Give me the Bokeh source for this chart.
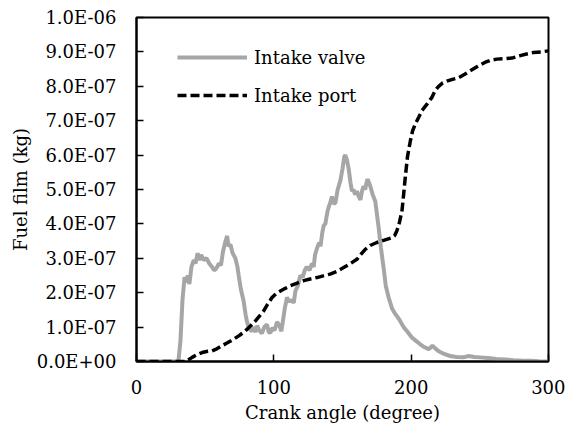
from bokeh.plotting import figure
from bokeh.models import (Range1d, FixedTicker, CustomJSTickFormatter,
                          Legend, LegendItem)
from bokeh.embed import file_html
from bokeh.resources import INLINE

# Crank angle (degree) and fuel film mass (kg) on the intake valve
valve_angle = [0, 30.5, 32, 33.5, 35, 36.2, 37.3, 38.5, 40, 41.7, 43, 44.5, 45.8, 47, 49, 51,
               53, 55, 56.5, 58, 60, 61.5, 63, 64.5, 66, 67, 68.4, 70, 72, 73.5, 74.4, 76,
               78, 79.5, 80.5, 82, 84, 85.5, 86.5, 87.8, 89.5, 91.4, 93, 95, 96.3, 97.5, 99,
               100.5, 102.3, 104, 105.5, 106.5, 108, 109.6, 111, 113.2, 114.5, 115.7, 117.5,
               119.3, 121, 122.5, 124, 126, 127.8, 129, 130, 131.5, 133, 134, 135.3, 136.3,
               137.5, 139, 140, 141, 142.3, 143.5, 144.8, 146.5, 148.4, 150, 151.3, 152,
               153.3, 154.5, 155.8, 156.9, 158, 159.2, 160.5, 161.8, 163, 164.2, 165.4,
               166.5, 167.5, 168.3, 169.3, 170.2, 172, 173.9, 175, 176.3, 178, 180, 181.5,
               183.6, 186, 188.4, 190, 192, 194.5, 197, 200.5, 203.5, 206.6, 209.5, 212.7,
               214, 215.5, 217.5, 220, 224, 228.4, 233, 238, 241.8, 246, 250, 256, 262, 268,
               274.5, 280, 286.6, 293, 300]
valve_film = [0, 0, 0.6e-7, 1.8e-7, 2.45e-7, 2.3e-7, 2.5e-7, 2.25e-7, 2.75e-7, 2.95e-7,
              2.85e-7, 3.15e-7, 2.95e-7, 3.1e-7, 2.95e-7, 3.0e-7, 2.85e-7, 2.75e-7, 2.65e-7,
              2.7e-7, 2.85e-7, 2.8e-7, 3.2e-7, 3.45e-7, 3.65e-7, 3.35e-7, 3.4e-7, 3.15e-7,
              3.0e-7, 2.75e-7, 2.5e-7, 2.1e-7, 1.76e-7, 1.35e-7, 1.15e-7, 0.95e-7, 0.88e-7,
              1.0e-7, 0.85e-7, 1.04e-7, 0.9e-7, 0.82e-7, 1.0e-7, 1.08e-7, 0.85e-7, 0.84e-7,
              0.98e-7, 0.9e-7, 1.15e-7, 1.05e-7, 0.88e-7, 1.15e-7, 1.55e-7, 1.86e-7, 1.75e-7,
              1.78e-7, 1.7e-7, 2.05e-7, 2.2e-7, 2.5e-7, 2.45e-7, 2.65e-7, 2.75e-7, 2.65e-7,
              2.85e-7, 2.75e-7, 3.1e-7, 3.3e-7, 3.45e-7, 3.35e-7, 3.75e-7, 3.95e-7, 4.0e-7,
              4.35e-7, 4.5e-7, 4.6e-7, 4.8e-7, 4.6e-7, 4.6e-7, 5.0e-7, 5.25e-7, 5.6e-7,
              5.95e-7, 6.0e-7, 5.85e-7, 5.6e-7, 5.2e-7, 4.95e-7, 5.0e-7, 4.85e-7, 4.95e-7,
              4.8e-7, 4.7e-7, 4.95e-7, 5.1e-7, 5.0e-7, 5.2e-7, 5.3e-7, 5.2e-7, 5.1e-7,
              4.85e-7, 4.65e-7, 4.3e-7, 3.9e-7, 3.3e-7, 2.7e-7, 2.2e-7, 1.86e-7, 1.55e-7,
              1.38e-7, 1.3e-7, 1.18e-7, 1.0e-7, 0.88e-7, 0.7e-7, 0.6e-7, 0.5e-7, 0.42e-7,
              0.36e-7, 0.4e-7, 0.46e-7, 0.38e-7, 0.3e-7, 0.22e-7, 0.16e-7, 0.13e-7, 0.12e-7,
              0.16e-7, 0.13e-7, 0.12e-7, 0.1e-7, 0.07e-7, 0.06e-7, 0.04e-7, 0.03e-7,
              0.02e-7, 0.01e-7, 0]

# Crank angle (degree) and fuel film mass (kg) in the intake port
port_angle = [0, 35, 37, 40.5, 44, 47.8, 51, 55, 58.5, 62.3, 66.5, 70.8, 75, 79.3, 83, 86.6,
              89.5, 92.6, 95.5, 98.7, 101.5, 104.8, 108, 112, 117, 121.7, 126.5, 131.4, 136,
              141, 146, 150.8, 155.5, 160.5, 163.5, 166.6, 170.5, 175, 180.5, 186, 188, 189.6,
              191.5, 193.3, 194.5, 195.7, 197.3, 199.4, 201, 203, 205.5, 207.8, 211.5, 215,
              217.5, 220, 223, 226, 230, 234.5, 239, 243, 248.5, 254, 258, 262.4, 268, 273.3,
              279.4, 284, 289, 294.5, 300]
port_film = [0, 0, 0.03e-7, 0.12e-7, 0.2e-7, 0.26e-7, 0.29e-7, 0.31e-7, 0.37e-7, 0.46e-7,
             0.55e-7, 0.65e-7, 0.76e-7, 0.89e-7, 1.03e-7, 1.18e-7, 1.32e-7, 1.47e-7, 1.67e-7,
             1.86e-7, 1.97e-7, 2.05e-7, 2.12e-7, 2.2e-7, 2.28e-7, 2.35e-7, 2.4e-7, 2.44e-7,
             2.49e-7, 2.54e-7, 2.62e-7, 2.73e-7, 2.84e-7, 2.97e-7, 3.12e-7, 3.26e-7, 3.38e-7,
             3.46e-7, 3.53e-7, 3.6e-7, 3.66e-7, 3.8e-7, 4.05e-7, 4.38e-7, 4.85e-7, 5.35e-7,
             5.95e-7, 6.41e-7, 6.7e-7, 6.9e-7, 7.1e-7, 7.29e-7, 7.48e-7, 7.67e-7, 7.88e-7,
             8.0e-7, 8.1e-7, 8.15e-7, 8.2e-7, 8.25e-7, 8.35e-7, 8.45e-7, 8.58e-7, 8.7e-7,
             8.76e-7, 8.79e-7, 8.8e-7, 8.82e-7, 8.89e-7, 8.94e-7, 8.98e-7, 9.0e-7, 9.03e-7]

x_ticks = [0, 100, 200, 300]
y_ticks = [0, 1e-7, 2e-7, 3e-7, 4e-7, 5e-7, 6e-7, 7e-7, 8e-7, 9e-7, 1e-6]

FONT = "DejaVu Serif"

p = figure(width=565, height=430, output_backend="svg", toolbar_location=None,
           x_range=Range1d(0, 300), y_range=Range1d(0, 1e-6),
           min_border_left=136, min_border_right=17, min_border_top=17,
           min_border_bottom=69, background_fill_color="white",
           border_fill_color="white")

p.xgrid.visible = False
p.ygrid.visible = False
p.outline_line_color = "black"
p.outline_line_width = 2

r_valve = p.line(valve_angle, valve_film, line_color="#A6A6A6", line_width=4)
r_port = p.line(port_angle, port_film, line_color="black", line_width=3.5,
                line_dash="9 4")

for ax in (p.xaxis[0], p.yaxis[0]):
    ax.axis_line_color = "black"
    ax.axis_line_width = 2
    ax.major_tick_line_color = "black"
    ax.major_tick_line_width = 1.5
    ax.major_tick_in = 7
    ax.major_tick_out = 0
    ax.minor_tick_line_color = None
    ax.major_label_text_font = FONT
    ax.major_label_text_font_size = "18px"
    ax.major_label_text_color = "black"
    ax.axis_label_text_font = FONT
    ax.axis_label_text_font_size = "18px"
    ax.axis_label_text_font_style = "normal"
    ax.axis_label_text_color = "black"

p.xaxis.ticker = FixedTicker(ticks=x_ticks)
p.xaxis.axis_label = "Crank angle (degree)"
p.xaxis.major_label_standoff = 18
p.xaxis.axis_label_standoff = 5

p.yaxis.ticker = FixedTicker(ticks=y_ticks)
p.yaxis.axis_label = "Fuel film (kg)"
p.yaxis.major_label_standoff = 20
p.yaxis.axis_label_standoff = 3
p.yaxis.formatter = CustomJSTickFormatter(code="""
    const s = tick.toExponential(1).toUpperCase();
    const parts = s.split('E');
    const e = parseInt(parts[1]);
    const a = Math.abs(e);
    return parts[0] + 'E' + (e < 0 ? '-' : '+') + (a < 10 ? '0' : '') + a;
""")

legend = Legend(items=[LegendItem(label="Intake valve", renderers=[r_valve]),
                       LegendItem(label="Intake port", renderers=[r_port])],
                location=(41, 251), glyph_width=70, glyph_height=30,
                label_standoff=7, spacing=8, padding=0, margin=0,
                border_line_color=None, background_fill_alpha=0,
                label_text_font=FONT, label_text_font_size="18px",
                label_text_color="black")
p.add_layout(legend)

open("out.html", "w").write(file_html(p, INLINE))
